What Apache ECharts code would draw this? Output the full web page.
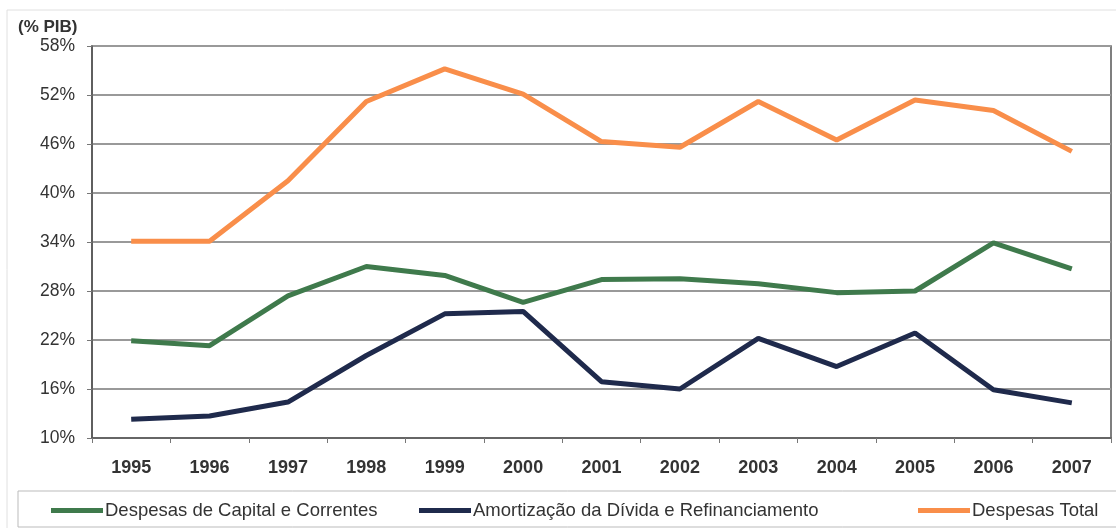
<!DOCTYPE html>
<html><head><meta charset="utf-8">
<script src="https://cdn.jsdelivr.net/npm/echarts@6/dist/echarts.min.js"></script>
<style>html,body{margin:0;padding:0;background:#fff}#c{width:1116px;height:528px}</style>
</head><body><div id="c"></div>
<script>
const years = ['1995','1996','1997','1998','1999','2000','2001','2002','2003','2004','2005','2006','2007'];
const capitalCorrentes = [21.9, 21.3, 27.4, 31.0, 29.9, 26.6, 29.4, 29.5, 28.9, 27.8, 28.0, 33.9, 30.7];
const amortizacao = [12.3, 12.7, 14.4, 20.1, 25.2, 25.5, 16.9, 16.0, 22.2, 18.75, 22.85, 15.9, 14.3];
const despesasTotal = [34.1, 34.1, 41.5, 51.2, 55.2, 52.1, 46.3, 45.6, 51.2, 46.5, 51.4, 50.1, 45.1];
const names = ['Despesas de Capital e Correntes', 'Amortização da Dívida e Refinanciamento', 'Despesas Total'];
const colors = ['#3f7a4c', '#1f2a4c', '#f98e4a'];

const chart = echarts.init(document.getElementById('c'));
const font = 'Liberation Sans, Arial, sans-serif';
function legendFor(i, left) {
  return {
    data: [names[i]], left: left, top: 496, icon: 'rect', itemWidth: 52, itemHeight: 5, itemGap: 0,
    textStyle: { fontFamily: font, fontSize: 18.5, color: '#333', padding: [0, 0, 0, -3] }
  };
}
chart.setOption({
  animation: false,
  color: colors,
  grid: { left: 92, right: 5, top: 46, bottom: 90, show: true, borderColor: '#555', borderWidth: 1.5 },
  graphic: [
    { type: 'rect', shape: { x: 7, y: 10, width: 1120, height: 530 }, style: { fill: 'none', stroke: '#e0e0e0', lineWidth: 1 } },
    { type: 'rect', shape: { x: 18, y: 491, width: 1110, height: 36 }, style: { fill: '#fff', stroke: '#bbb', lineWidth: 1 } },
    { type: 'text', left: 18, top: 19, style: { text: '(% PIB)', font: 'bold 17px ' + font, fill: '#333' } }
  ],
  legend: [legendFor(0, 46), legendFor(1, 414), legendFor(2, 913)],
  xAxis: {
    type: 'category', data: years, boundaryGap: true,
    axisLine: { lineStyle: { color: '#555', width: 1.5 } },
    axisTick: { show: true, length: 5, lineStyle: { color: '#777' } },
    axisLabel: { fontFamily: font, fontSize: 18, fontWeight: 'bold', color: '#333', margin: 21 }
  },
  yAxis: {
    type: 'value', min: 10, max: 58, interval: 6,
    axisLine: { show: true, lineStyle: { color: '#555', width: 1.5 } },
    axisTick: { show: true, length: 5, lineStyle: { color: '#777' } },
    axisLabel: { fontFamily: font, fontSize: 17.5, color: '#333', formatter: '{value}%', margin: 17 },
    splitLine: { lineStyle: { color: '#999', width: 2 } }
  },
  series: [
    { name: names[0], type: 'line', data: capitalCorrentes, symbol: 'none', lineStyle: { width: 5, color: colors[0] } },
    { name: names[1], type: 'line', data: amortizacao, symbol: 'none', lineStyle: { width: 5, color: colors[1] } },
    { name: names[2], type: 'line', data: despesasTotal, symbol: 'none', lineStyle: { width: 5, color: colors[2] } }
  ]
});
</script></body></html>
